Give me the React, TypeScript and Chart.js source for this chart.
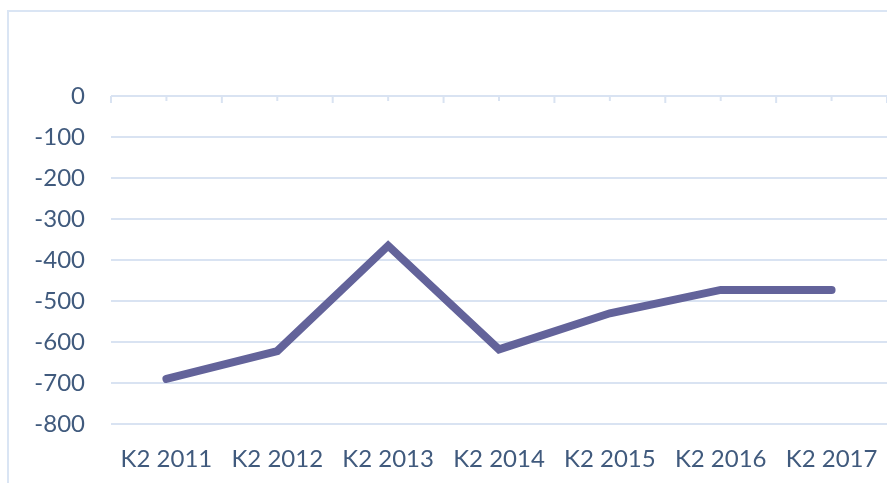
import React, { useEffect, useRef } from "react";
import { Chart, registerables } from "chart.js";

Chart.register(...registerables);

const categories = ["K2 2011", "K2 2012", "K2 2013", "K2 2014", "K2 2015", "K2 2016", "K2 2017"];
const seriesValues = [-690, -622, -365, -618, -530, -473, -473];
const yMin = -800;
const yMax = 0;
const yStep = 100;

const GRID = "#d9e3f2";
const TEXT = "#405a7d";

const zeroTicks = {
  id: "zeroTicks",
  beforeDatasetsDraw(chart: any) {
    const x = chart.scales.x;
    const y = chart.scales.y;
    const ctx = chart.ctx;
    const y0 = y.getPixelForValue(0);
    const half = (x.getPixelForValue(1) - x.getPixelForValue(0)) / 2;
    ctx.save();
    ctx.strokeStyle = GRID;
    ctx.lineWidth = 2;
    for (let i = 0; i < categories.length; i++) {
      const c = x.getPixelForValue(i);
      const marks: [number, number][] = [
        [c - half, 7],
        [c, 5],
      ];
      if (i === categories.length - 1) marks.push([c + half, 7]);
      for (const [px, len] of marks) {
        ctx.beginPath();
        ctx.moveTo(px, y0);
        ctx.lineTo(px, y0 + len);
        ctx.stroke();
      }
    }
    ctx.restore();
  },
};

export default function App() {
  const ref = useRef<HTMLCanvasElement>(null);
  useEffect(() => {
    if (!ref.current) return;
    const chart = new Chart(ref.current, {
      type: "line",
      data: {
        labels: categories,
        datasets: [
          {
            data: seriesValues,
            borderColor: "#63639a",
            backgroundColor: "#63639a",
            borderWidth: 8,
            borderCapStyle: "round",
            borderJoinStyle: "miter",
            pointRadius: 0,
            tension: 0,
            fill: false,
          },
        ],
      },
      options: {
        animation: false,
        responsive: false,
        maintainAspectRatio: false,
        layout: { padding: { top: 96, left: 0, right: 0, bottom: 0 } },
        plugins: {
          legend: { display: false },
          tooltip: { enabled: false },
          title: { display: false },
        },
        scales: {
          x: {
            type: "category",
            offset: true,
            grid: { display: false },
            border: { display: false },
            ticks: {
              color: TEXT,
              font: { family: "Lato", size: 24 },
              padding: 13,
              maxRotation: 0,
              autoSkip: false,
            },
            afterFit: (s: any) => {
              s.height = 59;
              s.paddingLeft = 0;
              s.paddingRight = 0;
            },
          },
          y: {
            min: yMin,
            max: yMax,
            grid: { color: GRID, lineWidth: 2, drawTicks: false },
            border: { display: false },
            ticks: {
              stepSize: yStep,
              color: TEXT,
              font: { family: "Lato", size: 24 },
              padding: 26,
            },
            afterFit: (s: any) => {
              s.width = 111;
            },
          },
        },
      },
      plugins: [zeroTicks],
    });
    return () => chart.destroy();
  }, []);

  return (
    <div style={{ position: "absolute", left: 0, top: 0, width: 887, height: 483, overflow: "hidden", background: "#fff" }}>
      <div
        style={{
          position: "absolute",
          left: 7,
          top: 10,
          width: 1000,
          height: 1000,
          borderLeft: "2px solid #dae5f4",
          borderTop: "2px solid #dae5f4",
        }}
      />
      <canvas ref={ref} width={887} height={483} style={{ position: "absolute", left: 0, top: 0, width: 887, height: 483 }} />
    </div>
  );
}
